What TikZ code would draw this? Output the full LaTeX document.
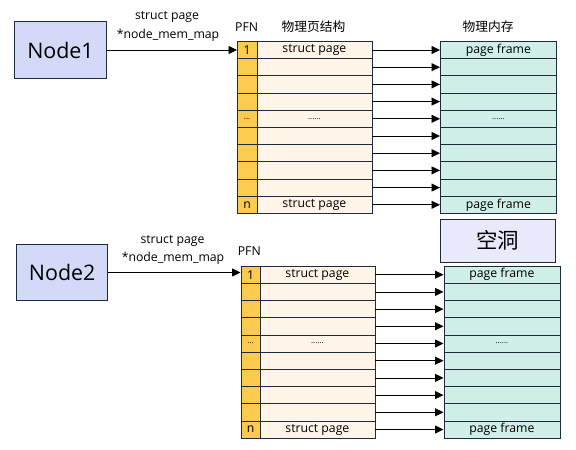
\documentclass[tikz,border=0pt]{standalone}
\usepackage{fontspec}
\setmainfont{Open Sans}
\newfontfamily\cjk{Noto Sans CJK SC}
\usetikzlibrary{arrows.meta}
\definecolor{linec}{HTML}{1E2A40}
\definecolor{nodefill}{HTML}{D2DAF8}
\definecolor{holefill}{HTML}{E8EAFC}
\definecolor{pfnfill}{HTML}{FCCA4E}
\definecolor{spfill}{HTML}{FFF4E8}
\definecolor{pffill}{HTML}{D0EFE7}
\begin{document}
\begin{tikzpicture}[x=1bp,y=-1bp,
  box/.style={draw=linec, line width=0.8bp, inner sep=0pt, anchor=north west},
  cell/.style={box, minimum height=17.2bp},
  pfncell/.style={cell, fill=pfnfill, minimum width=19.5bp},
  spcell/.style={cell, fill=spfill, minimum width=115bp},
  pfcell/.style={cell, fill=pffill, minimum width=116bp},
  bignode/.style={draw=linec, line width=0.8bp, fill=nodefill, inner sep=0pt, font=\fontsize{21.5}{24}\selectfont},
  txt/.style={inner sep=0pt, font=\fontsize{12.3}{14}\selectfont},
  tiny/.style={inner sep=0pt, font=\fontsize{8}{9}\selectfont},
  head/.style={inner sep=0pt, font=\cjk\fontsize{12.8}{14}\selectfont},
  arr/.style={draw=black, line width=0.8bp, -{Triangle[length=8.5bp,width=8bp]}}
]
\useasboundingbox (0,0) rectangle (576,450);

% ---------- top ----------
\node[bignode, minimum width=92.4bp, minimum height=56.6bp] (N1) at (60.5,50) {Node1};
\node[txt] (L1a) at (167,17) {struct page};
\node[txt] (L1b) at (168,35) {*node\_mem\_map};
\node[txt] (H1p) at (246.7,27) {PFN};
\node[head] (H1s) at (313.5,27) {物理页结构};
\node[head] (H1f) at (488,27) {物理内存};

\foreach \i in {1,...,10} {
  \node[pfncell] (pa\i) at ({237},{41+(\i-1)*17.2}) {};
  \node[spcell]  (sa\i) at ({256.5},{41+(\i-1)*17.2}) {};
  \node[pfcell]  (fa\i) at ({440},{41+(\i-1)*17.2}) {};
}
\foreach \i in {1,...,10} {
  \draw[arr] (sa\i.east) -- (fa\i.west);
}
\draw[arr] (N1.east) -- (N1.east -| pa1.west);

\node[txt] (ta1) at (pa1) {1};
\node[txt] (ta2) at (sa1) {struct page};
\node[txt] (ta3) at (fa1) {page frame};
\node[tiny] (ta4) at (pa5) {...};
\node[tiny] (ta5) at (sa5) {......};
\node[tiny] (ta6) at (fa5) {......};
\node[txt] (ta7) at (pa10) {n};
\node[txt] (ta8) at (sa10) {struct page};
\node[txt] (ta9) at (fa10) {page frame};

% ---------- hole ----------
\node[draw=linec, line width=0.8bp, fill=holefill, inner sep=0pt, minimum width=115.7bp, minimum height=43.3bp, font=\cjk\fontsize{21.5}{24}\selectfont] (hole) at (497.8,240.6) {空洞};

% ---------- bottom ----------
\node[bignode, minimum width=91bp, minimum height=56.7bp] (N2) at (62.2,272.5) {Node2};
\node[txt] (L2a) at (172.5,240.7) {struct page};
\node[txt] (L2b) at (173,258.3) {*node\_mem\_map};
\node[txt] (H2p) at (249.3,250.7) {PFN};

\foreach \i in {1,...,10} {
  \node[pfncell] (pb\i) at ({240.5},{265.7+(\i-1)*17.2}) {};
  \node[spcell]  (sb\i) at ({259.5},{265.7+(\i-1)*17.2}) {};
  \node[pfcell]  (fb\i) at ({443.5},{265.7+(\i-1)*17.2}) {};
}
\foreach \i in {1,...,10} {
  \draw[arr] (sb\i.east) -- (fb\i.west);
}
\draw[arr] (N2.east) -- (N2.east -| pb1.west);

\node[txt] (tb1) at (pb1) {1};
\node[txt] (tb2) at (sb1) {struct page};
\node[txt] (tb3) at (fb1) {page frame};
\node[tiny] (tb4) at (pb5) {...};
\node[tiny] (tb5) at (sb5) {......};
\node[tiny] (tb6) at (fb5) {......};
\node[txt] (tb7) at (pb10) {n};
\node[txt] (tb8) at (sb10) {struct page};
\node[txt] (tb9) at (fb10) {page frame};
\end{tikzpicture}
\end{document}
